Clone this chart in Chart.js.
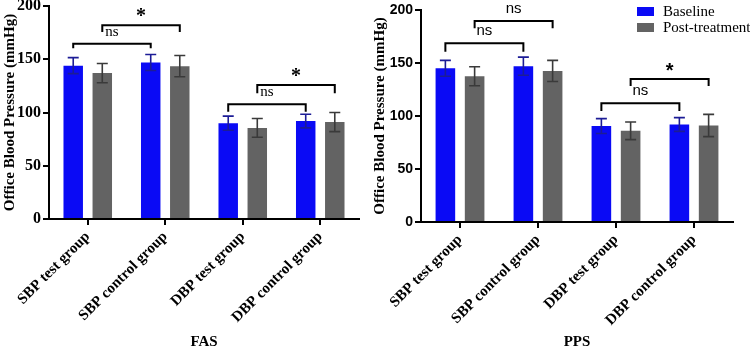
<!DOCTYPE html>
<html>
<head>
<meta charset="utf-8">
<script src="https://cdn.jsdelivr.net/npm/chart.js@4/dist/chart.umd.min.js"></script>
<style>
  html, body { margin: 0; padding: 0; background: #fff; }
  #wrap { position: relative; width: 750px; height: 352px; }
  .box { position: absolute; top: 0; height: 352px; }
  #boxFas { left: 0; width: 371px; }
  #boxPps { left: 371px; width: 379px; }
</style>
</head>
<body>
<div id="wrap">
  <div class="box" id="boxFas"><canvas id="fasChart"></canvas></div>
  <div class="box" id="boxPps"><canvas id="ppsChart"></canvas></div>
</div>
<script>
const categories = ['SBP test group', 'SBP control group', 'DBP test group', 'DBP control group'];
const seriesNames = ['Baseline', 'Post-treatment'];
const yTicks = [0, 50, 100, 150, 200];

// FAS panel (mean and SD)
const fasBaseline   = [144, 147, 90, 92];
const fasBaselineSd = [7.5, 7.5, 6.6, 6.4];
const fasPost       = [137, 143.5, 85.5, 91];
const fasPostSd     = [9, 10, 8.8, 9];

// PPS panel
const ppsBaseline   = [145, 147, 90.5, 92];
const ppsBaselineSd = [7.5, 8.5, 7, 6.5];
const ppsPost       = [137.5, 142.5, 86, 91];
const ppsPostSd     = [9, 10, 8.3, 10.5];

// significance brackets: categories joined, series, bar height, leg bottom, label
const fasBrackets = [
  { cats: [0, 1], ds: 0, y: 164.5, leg: 160.3, label: 'ns' },
  { cats: [0, 1], ds: 1, y: 182,   leg: 175.6, label: '*' },
  { cats: [2, 3], ds: 0, y: 107.7, leg: 100.7, label: 'ns' },
  { cats: [2, 3], ds: 1, y: 125.8, leg: 118,   label: '*' }
];
const ppsBrackets = [
  { cats: [0, 1], ds: 0, y: 168.6, leg: 160.7, label: 'ns' },
  { cats: [0, 1], ds: 1, y: 189.6, leg: 182.7, label: 'ns' },
  { cats: [2, 3], ds: 0, y: 112,   leg: 104.7, label: 'ns' },
  { cats: [2, 3], ds: 1, y: 134.9, leg: 128.3, label: '*' }
];

const BLUE = '#0a0af5', BLUE_ERR = '#1c1c96';
const GREY = '#636363', GREY_ERR = '#3a3a3a';
const SERIF = '"Liberation Serif", "Times New Roman", serif';
const SANS = '"Liberation Sans", Arial, sans-serif';

// error bars drawn from the sd arrays through the y scale
const errorBars = {
  id: 'errorBars',
  afterDatasetsDraw(chart) {
    const ctx = chart.ctx, y = chart.scales.y;
    chart.data.datasets.forEach((ds, i) => {
      chart.getDatasetMeta(i).data.forEach((bar, j) => {
        const v = ds.data[j], e = ds.sd[j];
        const top = y.getPixelForValue(v + e), bot = y.getPixelForValue(v - e);
        ctx.save();
        ctx.strokeStyle = ds.errColor;
        ctx.lineWidth = 1.6;
        ctx.beginPath();
        ctx.moveTo(bar.x, top); ctx.lineTo(bar.x, bot);
        ctx.moveTo(bar.x - 5.5, top); ctx.lineTo(bar.x + 5.5, top);
        ctx.moveTo(bar.x - 5.5, bot); ctx.lineTo(bar.x + 5.5, bot);
        ctx.stroke();
        ctx.restore();
      });
    });
  }
};

const brackets = {
  id: 'brackets',
  afterDatasetsDraw(chart, args, opts) {
    const ctx = chart.ctx, y = chart.scales.y;
    (opts.items || []).forEach(b => {
      const meta = chart.getDatasetMeta(b.ds);
      const x1 = meta.data[b.cats[0]].x, x2 = meta.data[b.cats[1]].x;
      const yl = y.getPixelForValue(b.y), yb = y.getPixelForValue(b.leg);
      ctx.save();
      ctx.strokeStyle = '#000';
      ctx.lineWidth = 2;
      ctx.beginPath();
      ctx.moveTo(x1, yb); ctx.lineTo(x1, yl); ctx.lineTo(x2, yl); ctx.lineTo(x2, yb);
      ctx.stroke();
      ctx.fillStyle = '#000';
      ctx.textAlign = 'center';
      ctx.textBaseline = 'middle';
      if (b.label === '*') {
        ctx.font = 'bold 20px ' + opts.family;
        ctx.fillText('*', (x1 + x2) / 2, yl - 8);
      } else {
        ctx.font = '15px ' + opts.family;
        ctx.fillText(b.label, (x1 + x2) / 2, yl - 12);
      }
      ctx.restore();
    });
  }
};

// legend box in the top right of the PPS panel
const boxLegend = {
  id: 'boxLegend',
  afterDraw(chart, args, opts) {
    if (!opts.show) return;
    const ctx = chart.ctx;
    chart.data.datasets.forEach((ds, i) => {
      const y0 = 7 + i * 16;
      ctx.save();
      ctx.fillStyle = ds.backgroundColor;
      ctx.fillRect(266, y0, 17, 9);
      ctx.fillStyle = '#000';
      ctx.font = '15px ' + SERIF;
      ctx.textBaseline = 'middle';
      ctx.fillText(ds.label, 292, y0 + 5);
      ctx.restore();
    });
  }
};

function makeChart(id, base, baseSd, post, postSd, opts) {
  const axisGrid = {
    display: true, drawOnChartArea: false, drawTicks: true,
    tickLength: 6, lineWidth: 2, color: '#000', offset: false
  };
  return new Chart(document.getElementById(id), {
    type: 'bar',
    data: {
      labels: categories,
      datasets: [
        { label: seriesNames[0], data: base, sd: baseSd, backgroundColor: BLUE, errColor: BLUE_ERR },
        { label: seriesNames[1], data: post, sd: postSd, backgroundColor: GREY, errColor: GREY_ERR }
      ]
    },
    options: {
      responsive: true,
      maintainAspectRatio: false,
      animation: false,
      categoryPercentage: 0.75,
      barPercentage: 0.67,
      layout: { padding: { top: opts.top, right: opts.right, left: 0, bottom: 0 } },
      plugins: {
        legend: { display: false },
        tooltip: { enabled: false },
        brackets: { items: opts.brackets, family: opts.bracketFont },
        boxLegend: { show: opts.legend }
      },
      scales: {
        x: {
          offset: true,
          grid: axisGrid,
          border: { display: true, color: '#000', width: 2 },
          ticks: {
            minRotation: 45, maxRotation: 45, padding: 3, color: '#000',
            font: { family: SERIF, size: 15, weight: 'bold' }
          },
          title: {
            display: true, text: opts.title, color: '#000',
            font: { family: SERIF, size: 15, weight: 'bold' },
            padding: { top: 0, bottom: 1 }
          },
          afterFit: s => { s.height = opts.xHeight; s.paddingLeft = 0; s.paddingRight = 0; }
        },
        y: {
          min: 0, max: 200,
          grid: axisGrid,
          border: { display: true, color: '#000', width: 2 },
          afterBuildTicks: s => { s.ticks = yTicks.map(v => ({ value: v })); },
          ticks: {
            padding: 2, color: '#000',
            font: { family: opts.yFont, size: opts.ySize, weight: 'bold' }
          },
          title: {
            display: true, text: 'Office Blood Pressure (mmHg)', color: '#000',
            font: { family: SERIF, size: 15, weight: 'bold' },
            padding: { top: opts.yTitlePad, bottom: 0 }
          },
          afterFit: s => { s.width = opts.yWidth; s.paddingTop = 0; s.paddingBottom = 0; }
        }
      }
    },
    plugins: [errorBars, brackets, boxLegend]
  });
}

makeChart('fasChart', fasBaseline, fasBaselineSd, fasPost, fasPostSd, {
  title: 'FAS', top: 6, right: 12, xHeight: 133, yWidth: 49, yTitlePad: 1,
  yFont: SERIF, ySize: 16, brackets: fasBrackets, bracketFont: SERIF, legend: false
});
makeChart('ppsChart', ppsBaseline, ppsBaselineSd, ppsPost, ppsPostSd, {
  title: 'PPS', top: 10, right: 17, xHeight: 130, yWidth: 50, yTitlePad: 0,
  yFont: SANS, ySize: 14, brackets: ppsBrackets, bracketFont: SANS, legend: true
});
</script>
</body>
</html>
